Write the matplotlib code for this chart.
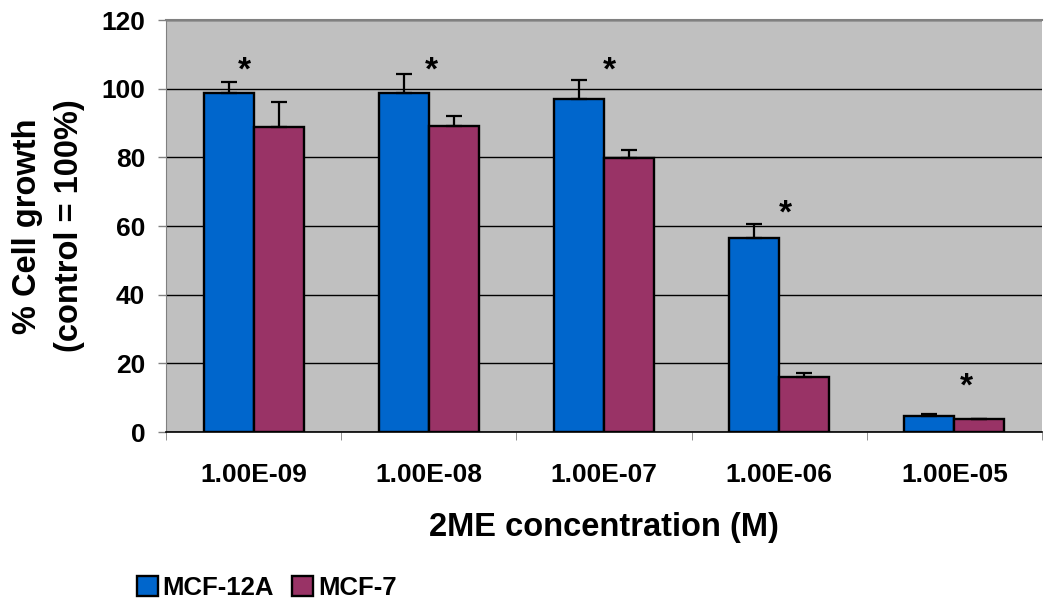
import matplotlib.pyplot as plt
import numpy as np

plt.rcParams['font.family'] = ['Liberation Sans', 'DejaVu Sans']
plt.rcParams['font.weight'] = 'bold'

concentrations = ['1.00E-09', '1.00E-08', '1.00E-07', '1.00E-06', '1.00E-05']
mcf12a = [98.8, 98.8, 97.1, 56.5, 4.8]
mcf12a_err = [3.1, 5.4, 5.4, 4.1, 0.5]
mcf7 = [88.8, 89.0, 79.8, 16.0, 3.7]
mcf7_err = [7.2, 2.9, 2.3, 1.1, 0.1]
# significance marks (*) over each group
star_y = [105.0, 105.0, 105.0, 63.5, 13.0]
star_dx = [-0.055, 0.017, 0.03, 0.038, 0.07]

fig = plt.figure(figsize=(10.46, 6.03), dpi=100)
ax = fig.add_axes([166 / 1046, 1 - 432 / 603, 876 / 1046, 412 / 603])
ax.set_facecolor('#C0C0C0')

x = np.arange(len(concentrations))
w = 1 / 3.5
err_kw = dict(ecolor='black', elinewidth=1.6, capsize=5.5, capthick=1.6)
ax.bar(x - w / 2, mcf12a, w, color='#0066CC', edgecolor='black', linewidth=1.7,
       yerr=[np.zeros(5), mcf12a_err], error_kw=err_kw, label='MCF-12A', zorder=3)
ax.bar(x + w / 2, mcf7, w, color='#993366', edgecolor='black', linewidth=1.7,
       yerr=[np.zeros(5), mcf7_err], error_kw=err_kw, label='MCF-7', zorder=3)

for xi, dx, yi in zip(x, star_dx, star_y):
    ax.text(xi + dx, yi, '*', ha='center', va='center', fontsize=24, fontweight='bold')

ax.set_xlim(-0.5, 4.5)
ax.set_ylim(0, 120)
ax.set_yticks(range(0, 121, 20))
ax.yaxis.grid(True, color='black', linewidth=1)
ax.set_axisbelow(True)

ax.set_xticks(x)
ax.set_xticklabels(concentrations, fontsize=19, fontweight='bold')
ax.tick_params(axis='x', length=0, pad=22)
ax.set_xticks(np.arange(-0.5, 5, 1), minor=True)
ax.tick_params(axis='x', which='minor', length=6, color='#808080')
ax.tick_params(axis='y', labelsize=19, length=6, color='#808080', width=1, pad=9)
for t in ax.get_yticklabels():
    t.set_fontweight('bold')

# top border of plot area is grey in the original
ax.spines['right'].set_visible(False)
ax.spines['top'].set_color('#808080')
ax.spines['top'].set_linewidth(1.5)
ax.spines['top'].set_zorder(2)
ax.spines['left'].set_color('#808080')
ax.spines['bottom'].set_color('black')
ax.spines['bottom'].set_linewidth(1.2)

ax.set_xlabel('2ME concentration (M)', fontsize=23.5, fontweight='bold', labelpad=18)
ax.set_ylabel('% Cell growth\n(control = 100%)', fontsize=23.5, fontweight='bold',
              labelpad=12, linespacing=1.45)

fig.legend(loc='center left', bbox_to_anchor=(137 / 1046, 1 - 588 / 603), ncol=2,
           frameon=False, borderpad=0, borderaxespad=0, handlelength=0.8,
           handleheight=0.8, handletextpad=0.2, columnspacing=0.7,
           prop={'weight': 'bold', 'size': 18.5})

fig.savefig('out.png', dpi=100)
